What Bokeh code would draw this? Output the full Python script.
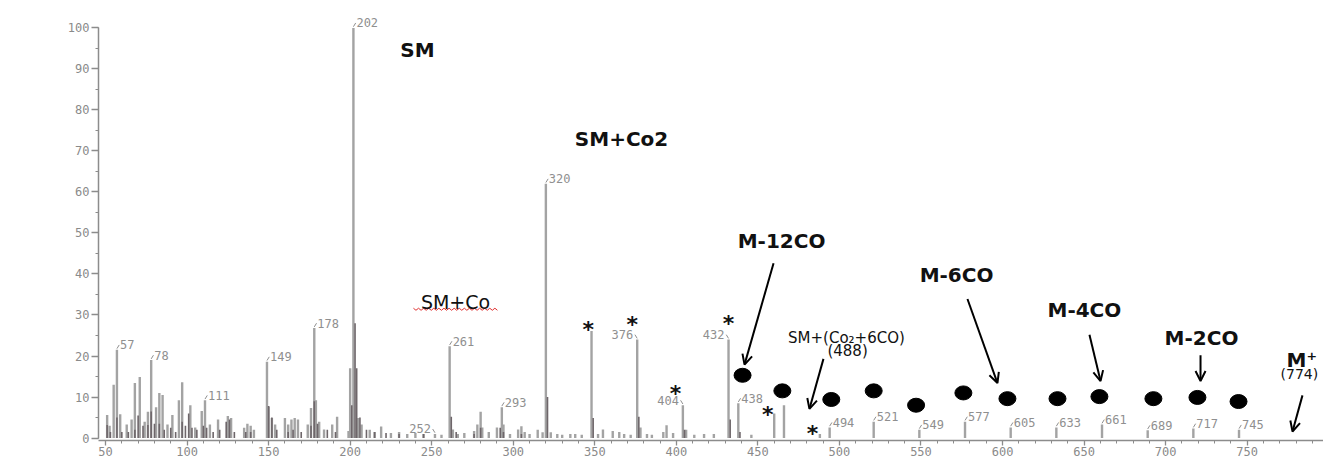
import numpy as np
from bokeh.plotting import figure
from bokeh.models import Range1d, SingleIntervalTicker, Arrow, OpenHead, Label
from bokeh.core.properties import value
from bokeh.embed import file_html
from bokeh.resources import INLINE

# ---------------- data ----------------
# main (light grey) spectrum: m/z and relative intensity (%)
mz_light = [51, 52.5, 55, 57, 59, 63, 66, 68, 71, 74, 76, 78, 81, 83, 85, 88, 91, 95, 97,
            102, 105, 109, 111, 114, 119, 125, 127, 135, 137, 139, 141,
            149, 150, 152, 154, 160, 162, 164, 166, 168, 174, 176, 178, 179, 181, 184,
            189, 192, 199, 200, 202, 205, 207, 212, 215, 219, 225, 230, 235, 240, 245,
            252, 256, 261, 263, 266, 270, 276, 278, 280, 281, 285, 290, 293, 294, 298,
            303, 305, 307, 310, 315, 318, 320, 323, 327, 330, 335, 338, 342, 348, 352,
            355, 361, 365, 368, 372, 376, 378, 382, 385, 392, 394, 398, 404, 406, 411,
            417, 423, 432, 438, 446, 460, 466, 488, 494, 521, 549, 577, 605, 633, 661,
            689, 717, 745]
int_light = [5.6, 3.0, 13.0, 21.5, 5.8, 3.3, 4.5, 13.4, 14.9, 4.0, 6.4, 19.0, 7.5, 11.0, 10.5, 3.3, 5.6, 9.2, 13.6,
             8.0, 2.6, 6.6, 9.2, 3.3, 4.5, 5.4, 4.9, 2.5, 3.5, 3.0, 2.0,
             18.6, 7.6, 4.9, 3.3, 4.9, 3.3, 4.5, 4.9, 4.5, 3.3, 7.3, 26.8, 9.2, 4.0, 2.1,
             3.3, 5.2, 1.7, 17.0, 100.0, 4.9, 3.3, 2.0, 1.5, 2.8, 1.2, 1.5, 1.0, 1.2, 1.0,
             1.0, 0.8, 22.4, 2.1, 1.0, 1.2, 1.7, 3.3, 6.4, 2.6, 1.5, 2.6, 7.5, 3.3, 1.0,
             2.1, 2.9, 1.5, 1.0, 2.0, 1.4, 62.0, 1.4, 1.0, 0.8, 1.0, 1.0, 0.8, 26.1, 1.0,
             2.1, 1.7, 1.5, 1.0, 0.8, 24.0, 2.6, 1.0, 0.8, 1.5, 3.1, 1.2, 8.0, 2.0, 0.8,
             1.0, 1.0, 24.0, 8.5, 0.8, 6.0, 8.0, 1.0, 2.6, 4.0, 2.0, 4.0, 2.6, 2.6, 3.3,
             1.9, 2.3, 2.0]

# darker overlaid spectrum
mz_dark = [51, 53, 57, 60, 64, 68, 70, 73, 76, 78, 80, 83, 86, 90, 93, 97, 99, 101, 103, 106,
           110, 112, 116, 120, 124, 126, 129, 136, 139, 150, 152, 155, 162, 165, 170, 176,
           178, 180, 186, 191, 201, 203, 204, 206, 210, 215, 222, 230, 245, 262, 265, 276,
           280, 292, 294, 305, 321, 349, 377, 405, 433, 439]
int_dark = [3.2, 1.5, 5.0, 1.5, 1.5, 2.0, 5.5, 3.0, 3.2, 6.5, 3.5, 3.5, 2.0, 2.5, 1.5, 4.0, 3.0, 6.0, 2.5, 2.0,
            3.0, 2.5, 1.5, 2.0, 4.0, 4.5, 1.5, 1.5, 1.5, 7.8, 5.0, 2.0, 1.5, 2.0, 1.5, 3.0,
            9.0, 3.5, 2.0, 1.5, 8.0, 28.0, 17.0, 5.0, 2.0, 1.5, 1.2, 1.0, 1.0, 5.2, 1.5, 1.0,
            2.5, 2.5, 1.5, 1.0, 10.0, 4.9, 5.2, 2.0, 4.5, 1.5]

# labelled peaks (label on right unless listed in left_labels)
label_mz = [57, 78, 111, 149, 178, 202, 252, 261, 293, 320, 376, 404, 432, 438,
            494, 521, 549, 577, 605, 633, 661, 689, 717, 745]
left_labels = [252, 376, 404, 432]

# marked ions
star_mz = [346, 373, 399.5, 432, 456, 483.5]
star_int = [29.4, 30.6, 13.9, 30.8, 8.7, 4.0]
dot_mz = [440.6, 465, 495, 521, 547, 576, 603, 633.7, 659.4, 692.5, 719.5, 744.7]
dot_int = [15.3, 11.5, 9.4, 11.5, 8.0, 11.0, 9.6, 9.6, 10.1, 9.6, 9.9, 8.9]

x_ticks_interval = 50
y_ticks_interval = 10

# ---------------- figure ----------------
p = figure(width=1323, height=458, x_range=Range1d(45.7, 796.8), y_range=Range1d(-0.6, 104.0),
           output_backend="svg", toolbar_location=None,
           min_border_left=98, min_border_right=0, min_border_top=11, min_border_bottom=18)
p.grid.visible = False
p.outline_line_color = None
p.background_fill_color = "white"

axc = "#8c8c8c"
for ax in (p.xaxis[0], p.yaxis[0]):
    ax.axis_line_color = axc
    ax.axis_line_width = 1.5
    ax.major_tick_line_color = axc
    ax.minor_tick_line_color = axc
    ax.major_tick_line_width = 1.3
    ax.major_tick_in = 0
    ax.minor_tick_in = 0
    ax.major_label_text_font = "DejaVu Sans Mono"
    ax.major_label_text_font_size = "12px"
    ax.major_label_text_color = "#8a8a8a"
    ax.major_label_standoff = 2

p.xaxis[0].ticker = SingleIntervalTicker(interval=x_ticks_interval, num_minor_ticks=5)
p.xaxis[0].major_tick_out = 5
p.xaxis[0].minor_tick_out = 3
p.xaxis[0].major_label_standoff = 1
p.yaxis[0].ticker = SingleIntervalTicker(interval=y_ticks_interval, num_minor_ticks=2)
p.yaxis[0].major_tick_out = 7
p.yaxis[0].minor_tick_out = 3
p.yaxis[0].bounds = (0, 100)

# spectrum bars
p.segment(x0=mz_light, y0=0, x1=mz_light, y1=int_light, line_color="#a3a3a3", line_width=2.4)
p.segment(x0=mz_dark, y0=0, x1=mz_dark, y1=int_dark, line_color="#6e666a", line_width=1.6)

# peak labels
inten = dict(zip(mz_light, int_light))
rx = [m for m in label_mz if m not in left_labels]
lx = [m for m in label_mz if m in left_labels]
lab_font = value("DejaVu Sans Mono")
p.text(x=rx, y=[inten[m] for m in rx], text=[str(m) for m in rx], text_font=lab_font,
       text_font_size="12px", text_color="#8f8f8f", text_align="left", text_baseline="alphabetic",
       x_offset=3, y_offset=-5)
p.text(x=lx, y=[inten[m] for m in lx], text=[str(m) for m in lx], text_font=lab_font,
       text_font_size="12px", text_color="#8f8f8f", text_align="right", text_baseline="alphabetic",
       x_offset=-4, y_offset=-5)
p.segment(x0=rx, y0=[inten[m] + 0.3 for m in rx], x1=[m + 1.4 for m in rx],
          y1=[inten[m] + 1.2 for m in rx], line_color="#8f8f8f", line_width=1)
p.segment(x0=lx, y0=[inten[m] + 0.3 for m in lx], x1=[m - 1.4 for m in lx],
          y1=[inten[m] + 1.2 for m in lx], line_color="#8f8f8f", line_width=1)

# stars and dots
p.text(x=star_mz, y=star_int, text=["*"] * len(star_mz), text_font=value("DejaVu Sans"),
       text_font_style="bold", text_font_size="22px", text_color="#111111",
       text_align="center", text_baseline="alphabetic", y_offset=12)
p.ellipse(x=dot_mz, y=dot_int, width=17, height=14, width_units="screen", height_units="screen",
          fill_color="black", line_color="black")

# annotations
annots = [
    ("SM", 241.3, 94.6, "20px", "bold"),
    ("SM+Co2", 366.4, 72.9, "20px", "bold"),
    ("SM+Co", 264.6, 33.2, "19px", "normal"),
    ("M-12CO", 464.5, 48.0, "20px", "bold"),
    ("M-6CO", 571.8, 39.8, "20px", "bold"),
    ("M-4CO", 650.2, 31.1, "20px", "bold"),
    ("M-2CO", 722.0, 24.5, "20px", "bold"),
    ("M\u207A", 783.5, 19.1, "20px", "bold"),
    ("(774)", 782.0, 15.5, "14px", "normal"),
    ("SM+(Co\u2082+6CO)", 504.3, 24.5, "15px", "normal"),
    ("(488)", 505.0, 21.2, "15px", "normal"),
]
for t, x, y, fs, st in annots:
    p.add_layout(Label(x=x, y=y, text=t, text_font="DejaVu Sans", text_font_size=fs,
                       text_font_style=st, text_color="#111111", text_align="center",
                       text_baseline="middle"))

# red spell-check squiggle under "SM+Co"
sq_x = np.linspace(238.8, 290.3, 34)
sq_y = 31.4 + np.where(np.arange(34) % 2 == 0, 0.25, -0.25)
p.line(sq_x, sq_y, line_color="#e03030", line_width=1)

arrows = [
    (459.6, 42.6, 441.8, 17.9),
    (578.5, 33.9, 596.9, 13.4),
    (653.3, 25.2, 660.1, 13.9),
    (721.4, 20.2, 721.4, 13.9),
    (783.9, 10.4, 777.8, 1.6),
    (490.2, 19.3, 481.6, 7.1),
]
for xs, ys, xe, ye in arrows:
    p.add_layout(Arrow(end=OpenHead(size=10, line_width=2, line_color="black"),
                       x_start=xs, y_start=ys, x_end=xe, y_end=ye,
                       line_width=2, line_color="black"))

open("out.html", "w").write(file_html(p, INLINE))
